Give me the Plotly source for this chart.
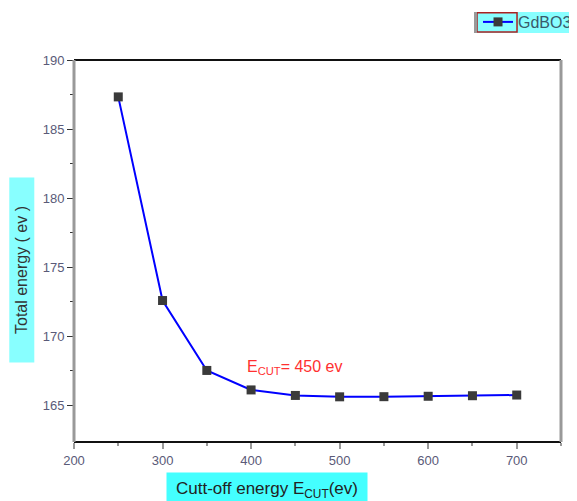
import plotly.graph_objects as go

cutoff = [250, 300, 350, 400, 450, 500, 550, 600, 650, 700]
energy = [187.33, 172.59, 167.53, 166.12, 165.72, 165.62, 165.63, 165.66, 165.70, 165.75]
series_name = "GdBO3"

fig = go.Figure()
fig.add_trace(go.Scatter(
    x=cutoff, y=energy, mode="lines+markers", name=series_name,
    line=dict(color="#0000ff", width=2),
    marker=dict(symbol="square", size=9, color="#3a3a3a"),
))

FONT = "Liberation Sans, Arial"
tickfont = dict(family=FONT, size=13, color="#5a5a78")
fig.update_layout(
    width=569, height=493,
    margin=dict(l=66, r=16, t=52, b=59, autoexpand=False),
    paper_bgcolor="white", plot_bgcolor="white",
    showlegend=True,
    legend=dict(x=0.8296, y=0.9716, xref="paper", yref="container", xanchor="left", yanchor="middle",
                bgcolor="rgba(0,0,0,0)", borderwidth=0, tracegroupgap=0,
                font=dict(family=FONT, size=16, color="#3a5a6a")),
    xaxis=dict(range=[200, 750], tickvals=[200, 300, 400, 500, 600, 700],
               showgrid=False, zeroline=False, ticks="outside", ticklen=6, tickwidth=2,
               tickcolor="#999999", tickfont=tickfont, showline=False,
               minor=dict(tickvals=[250, 350, 450, 550, 650, 750], ticks="outside", ticklen=3,
                          tickcolor="#999999", tickwidth=2)),
    yaxis=dict(range=[162.35, 190], tickvals=[165, 170, 175, 180, 185, 190],
               showgrid=False, zeroline=False, ticks="outside", ticklen=6, tickwidth=1,
               tickcolor="#333333", tickfont=tickfont, showline=False,
               minor=dict(tickvals=[167.5, 172.5, 177.5, 182.5, 187.5], ticks="outside", ticklen=3,
                          tickcolor="#333333", tickwidth=1)),
    shapes=[
        dict(type="line", xref="paper", yref="paper", x0=0, x1=1, y0=1, y1=1,
             line=dict(color="#111111", width=2)),
        dict(type="line", xref="paper", yref="paper", x0=0, x1=1, y0=0, y1=0,
             line=dict(color="#111111", width=2)),
        dict(type="line", xref="paper", yref="paper", x0=0, x1=0, y0=0, y1=1,
             line=dict(color="#999999", width=3)),
        dict(type="line", xref="paper", yref="paper", x0=1, x1=1, y0=0, y1=1,
             line=dict(color="#999999", width=3)),
        # legend box
        dict(type="rect", xref="paper", yref="paper", x0=0.8214, x1=1.04, y0=1.0707, y1=1.1257,
             line=dict(width=0), fillcolor="#88ffff", layer="below"),
        dict(type="rect", xref="paper", yref="paper", x0=0.8275, x1=0.9097, y0=1.073, y1=1.1235,
             line=dict(color="#aa2222", width=1.5), fillcolor="rgba(0,0,0,0)"),
        dict(type="line", xref="paper", yref="paper", x0=0.8244, x1=0.8244, y0=1.0707, y1=1.1257,
             line=dict(color="#999999", width=3)),
    ],
    annotations=[
        dict(text="Total energy ( ev )", textangle=-90, xref="paper", yref="paper",
             x=-0.107, y=0.45, xanchor="center", yanchor="middle", showarrow=False,
             width=180, height=20, bgcolor="#88ffff", borderpad=2,
             font=dict(family=FONT, size=16, color="#333333")),
        dict(text="Cutt-off energy E<sub>CUT</sub>(ev)", xref="paper", yref="paper",
             x=0.396, y=-0.0785, xanchor="center", yanchor="top", showarrow=False,
             width=196, height=30, bgcolor="#44ffff", borderpad=2,
             font=dict(family=FONT, size=17, color="#222222")),
        dict(text="E<sub>CUT</sub>= 450 ev", x=450, y=166.9, xref="x", yref="y",
             xanchor="center", yanchor="bottom", showarrow=False,
             font=dict(family=FONT, size=16, color="#ff3030")),
    ],
)

fig.write_html("out.html")
